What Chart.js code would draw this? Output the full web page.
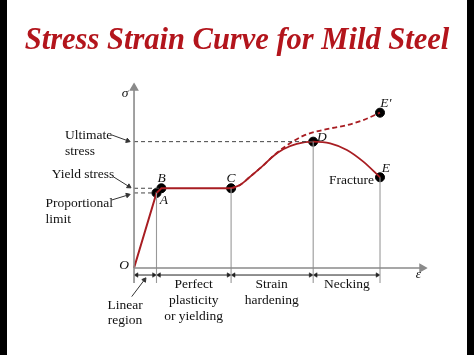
<!DOCTYPE html>
<html><head><meta charset="utf-8">
<script src="https://cdn.jsdelivr.net/npm/chart.js@4"></script>
<style>
html,body{margin:0;padding:0;background:#000;width:474px;height:355px;overflow:hidden}
#wrap{position:absolute;left:7px;top:0;width:460px;height:355px;background:#fff}
canvas{display:block}
</style></head><body>
<div id="wrap"><canvas id="c" width="460" height="355"></canvas></div>
<script>
// ---- data (strain, stress in arbitrary units) ----
const keyNames  = ['O', 'A', 'B', 'C', 'D', 'E', "E'"];
const keyStrain = [0, 7.8, 9.5, 33.7, 62.2, 85.4, 85.4];
const keyStress = [0, 41.7, 44.3, 44.3, 70.2, 50.4, 86.3];

const linStrain = [0, 7.8, 9.5, 33.7];
const linStress = [0, 41.7, 44.3, 44.3];

const hardStrain = [33.7, 36.8, 40.3, 44.9, 48.4, 51.8, 56.5, 62.2, 68.1, 73.9, 79.6, 85.4];
const hardStress = [44.3, 46.1, 50.7, 57.0, 62.2, 66.0, 69.0, 70.2, 69.3, 65.6, 59.1, 50.4];

const trueStrain = [33.7, 36.8, 40.3, 44.9, 48.4, 52.4, 58.7, 65.6, 73.9, 79.6, 85.4];
const trueStress = [44.3, 46.1, 50.7, 57.0, 62.4, 67.4, 73.4, 76.7, 79.4, 82.2, 86.3];

const regionBounds = [0, 7.8, 33.7, 62.2, 85.4];
const regionNames  = [['Linear', 'region'], ['Perfect', 'plasticity', 'or yielding'], ['Strain', 'hardening'], ['Necking']];

const ultimateStress = 70.2, yieldStress = 44.3, propLimit = 41.7;
const axisMin = -8.3, axisMax = 100, dimLevel = -3.9;

// ---- helpers ----
const RED = '#a81d22', GRAY = '#8a8a8a', DARK = '#444';
function pts(xs, ys){ return xs.map((x,i)=>({x, y: ys[i]})); }
function line(xs, ys, o){
  return Object.assign({data: pts(xs, ys), showLine: true, clip: false, pointRadius: 0,
    borderColor: GRAY, borderWidth: 1.2, tension: 0}, o);
}
const datasets = [];
// axes
datasets.push(line([0, 100], [0, 0], {borderColor: GRAY, borderWidth: 1.6,
  pointRadius: [0, 4], pointStyle: 'triangle', rotation: 90, pointBackgroundColor: GRAY, pointBorderColor: GRAY}));
datasets.push(line([0, 0], [axisMin, axisMax], {borderColor: GRAY, borderWidth: 1.6,
  pointRadius: [0, 4], pointStyle: 'triangle', rotation: 0, pointBackgroundColor: GRAY, pointBorderColor: GRAY}));
// vertical guides from A, C, D, E
[1, 3, 4, 5].forEach(i => datasets.push(line([keyStrain[i], keyStrain[i]], [keyStress[i], axisMin], {borderColor: '#999', borderWidth: 1.1})));
// dashed stress guides
datasets.push(line([0, keyStrain[4]], [ultimateStress, ultimateStress], {borderColor: DARK, borderDash: [4, 3], borderWidth: 1}));
datasets.push(line([0, keyStrain[2]], [yieldStress, yieldStress], {borderColor: DARK, borderDash: [4, 3], borderWidth: 1}));
datasets.push(line([0, keyStrain[1]], [propLimit, propLimit], {borderColor: DARK, borderDash: [4, 3], borderWidth: 1}));
// dimension arrows
for (let i = 0; i < regionBounds.length - 1; i++) {
  datasets.push(line([regionBounds[i] + 0.9, regionBounds[i+1] - 0.9], [dimLevel, dimLevel], {borderColor: '#222', borderWidth: 1,
    pointRadius: 2.6, pointStyle: 'triangle', rotation: [270, 90], pointBackgroundColor: '#222', pointBorderColor: '#222', pointBorderWidth: 0.5}));
}
// leader lines
const leaders = [
  [[-7.7, -2.2], [73.9, 70.7], 110],
  [[-7.2, -1.8], [50.7, 45.3], 122],
  [[-7.7, -2.2], [37.8, 40.5], 73],
  [[-0.8, 3.6], [-15.9, -6.6], 37]
];
leaders.forEach(l => datasets.push(line(l[0], l[1], {borderColor: '#333', borderWidth: 1,
  pointRadius: [0, 2.6], pointStyle: 'triangle', rotation: l[2], pointBackgroundColor: '#333', pointBorderColor: '#333'})));
// curves
datasets.push(line(linStrain, linStress, {borderColor: RED, borderWidth: 2}));
datasets.push(line(hardStrain, hardStress, {borderColor: RED, borderWidth: 1.8, cubicInterpolationMode: 'monotone'}));
datasets.push(line(trueStrain, trueStress, {borderColor: RED, borderWidth: 1.8, borderDash: [5, 3], cubicInterpolationMode: 'monotone'}));
// key points
datasets.push({data: pts(keyStrain.slice(1), keyStress.slice(1)), showLine: false, clip: false,
  pointRadius: 4.5, pointBackgroundColor: '#000', pointBorderColor: '#000'});

// ---- text annotations (positions in data units) ----
const SERIF = '"Liberation Serif", "Times New Roman", serif';
const labels = [
  ['σ', -3.1, 96.7, 'center', 'italic'],
  ['Ultimate', -24.0, 73.9, 'left'],
  ['stress', -24.0, 65.0, 'left'],
  ['Yield stress', -28.6, 51.7, 'left'],
  ['Proportional', -30.7, 35.6, 'left'],
  ['limit', -30.7, 27.2, 'left'],
  ['B', 9.6, 49.8, 'center', 'italic'],
  ['A', 10.4, 37.4, 'center', 'italic'],
  ['C', 33.7, 49.8, 'center', 'italic'],
  ['O', -3.4, 1.3, 'center', 'italic'],
  ['D', 65.2, 72.6, 'center', 'italic'],
  ['E', 87.4, 55.4, 'center', 'italic'],
  ['E′', 87.4, 91.5, 'center', 'italic'],
  ['Fracture', 83.3, 48.9, 'right'],
  ['ε', 98.7, -3.5, 'center', 'italic']
];
const regionCenters = [-3.1, 20.7, 47.8, 73.9];
const regionTop = [-20.6, -9.4, -9.4, -9.4];
const regionStep = 8.7;

const textPlugin = {
  id: 'texts',
  afterDatasetsDraw(chart){
    const {ctx, scales: {x, y}} = chart;
    ctx.save();
    ctx.fillStyle = '#111';
    ctx.textBaseline = 'middle';
    const draw = (t, dx, dy, align, style) => {
      ctx.font = (style ? style + ' ' : '') + '13.5px ' + SERIF;
      ctx.textAlign = align || 'center';
      ctx.fillText(t, x.getPixelForValue(dx), y.getPixelForValue(dy));
    };
    labels.forEach(l => draw(l[0], l[1], l[2], l[3], l[4]));
    regionNames.forEach((lines, i) => lines.forEach((t, j) => draw(t, regionCenters[i], regionTop[i] - j * regionStep, 'center')));
    ctx.restore();
  }
};

new Chart(document.getElementById('c'), {
  type: 'scatter',
  data: {datasets},
  plugins: [textPlugin],
  options: {
    responsive: false,
    animation: false,
    layout: {padding: 0, autoPadding: false},
    scales: {
      x: {type: 'linear', min: -44.1, max: 115.6, display: false},
      y: {type: 'linear', min: -48.33, max: 100, display: false}
    },
    plugins: {
      legend: {display: false},
      tooltip: {enabled: false},
      title: {
        display: true,
        text: 'Stress Strain Curve for Mild Steel',
        color: '#b3151c',
        font: {family: SERIF, size: 30.5, style: 'italic', weight: 'bold', lineHeight: 1.2},
        padding: {top: 23.2, bottom: 28.2}
      }
    }
  }
});
</script>
</body></html>
